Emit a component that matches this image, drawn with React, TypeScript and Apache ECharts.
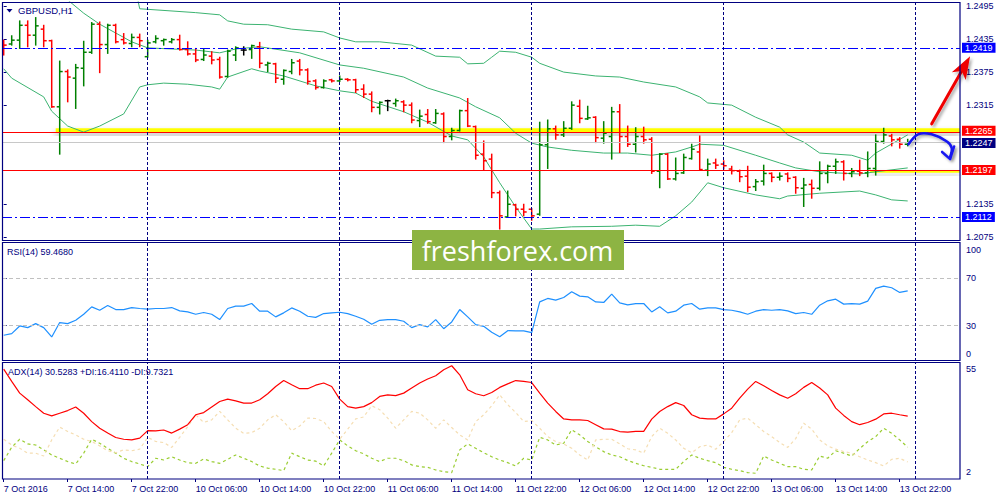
import React, { useEffect, useRef } from "react";
import * as echarts from "echarts";

const NAVY = "#000080";
const FONT = "'Liberation Sans', Arial, sans-serif";
const BULL = "#008000";
const BEAR = "#FF0000";
const DOJI = "#000000";
const BB_COLOR = "#3CB371";

const chartTitle = "GBPUSD,H1";
const rsiTitle = "RSI(14) 59.4680";
const adxTitle = "ADX(14) 30.5283 +DI:16.4110 -DI:9.7321";
const watermark = "freshforex.com";

// x axis (bar index) labels every 8 bars
const tickIndex = [0, 8, 16, 24, 32, 40, 48, 56, 64, 72, 80, 88, 96, 104, 112];
const tickLabels = [
  "7 Oct 2016", "7 Oct 14:00", "7 Oct 22:00", "10 Oct 06:00", "10 Oct 14:00",
  "10 Oct 22:00", "11 Oct 06:00", "11 Oct 14:00", "11 Oct 22:00", "12 Oct 06:00",
  "12 Oct 14:00", "12 Oct 22:00", "13 Oct 06:00", "13 Oct 14:00", "13 Oct 22:00",
];
const daySeparators = [18, 42, 66, 90, 114];
const X_MIN = -0.2125;
const X_MAX = 119.5375;

// visible price scale labels (1.2255 / 1.2195 are hidden behind the level boxes)
const priceTicks = [1.2075, 1.2135, 1.2315, 1.2375, 1.2435, 1.2495];
const PRICE_MIN = 1.20701;
const PRICE_MAX = 1.25023;
const rsiTicks = [0, 30, 70, 100];
const rsiLevels = [30, 70];
const adxTicks = [2, 55];

const blueLevels = [1.2419, 1.2112];
const redLevels = [1.2265, 1.2197];
const bidPrice = 1.2247;
const zoneStart = [6.5, 108.3];
const zoneTop = [1.2273, 1.2196];
const zoneBottom = [1.2266, 1.2192];

const barOpen = [
  1.2430, 1.2426, 1.2433, 1.2460, 1.2442, 1.2453, 1.2432, 1.2312, 1.2376, 1.2364,
  1.2382, 1.2411, 1.2462, 1.2425, 1.2460, 1.2434, 1.2427, 1.2438, 1.2403, 1.2430,
  1.2432, 1.2430, 1.2434, 1.2416, 1.2408, 1.2398, 1.2404, 1.2398, 1.2367, 1.2406,
  1.2415, 1.2416, 1.2421, 1.2388, 1.2390, 1.2362, 1.2376, 1.2395, 1.2379, 1.2359,
  1.2347, 1.2361, 1.2359, 1.2362, 1.2361, 1.2344, 1.2335, 1.2311, 1.2323, 1.2318,
  1.2321, 1.2315, 1.2287, 1.2298, 1.2283, 1.2299, 1.2258, 1.2269, 1.2305, 1.2276,
  1.2226, 1.2217, 1.2156, 1.2112, 1.2134, 1.2126, 1.2126, 1.2117, 1.2243, 1.2272,
  1.2261, 1.2273, 1.2313, 1.2290, 1.2293, 1.2255, 1.2258, 1.2303, 1.2258, 1.2244,
  1.2258, 1.2253, 1.2195, 1.2226, 1.2181, 1.2192, 1.2218, 1.2230, 1.2197, 1.2210,
  1.2208, 1.2199, 1.2195, 1.2186, 1.2167, 1.2177, 1.2191, 1.2184, 1.2190, 1.2184,
  1.2164, 1.2171, 1.2164, 1.2191, 1.2204, 1.2212, 1.2191, 1.2195, 1.2192, 1.2200,
  1.2249, 1.2259, 1.2253, 1.2244,
];
const barHigh = [
  1.2433, 1.2441, 1.2468, 1.2468, 1.2474, 1.2460, 1.2433, 1.2395, 1.2379, 1.2389,
  1.2431, 1.2465, 1.2466, 1.2462, 1.2462, 1.2445, 1.2444, 1.2444, 1.2433, 1.2441,
  1.2435, 1.2436, 1.2442, 1.2430, 1.2418, 1.2417, 1.2412, 1.2402, 1.2415, 1.2421,
  1.2421, 1.2424, 1.2429, 1.2393, 1.2391, 1.2379, 1.2398, 1.2398, 1.2381, 1.2361,
  1.2361, 1.2362, 1.2368, 1.2363, 1.2362, 1.2352, 1.2339, 1.2321, 1.2324, 1.2326,
  1.2323, 1.2319, 1.2306, 1.2307, 1.2307, 1.2301, 1.2273, 1.2306, 1.2327, 1.2277,
  1.2250, 1.2226, 1.2159, 1.2159, 1.2135, 1.2135, 1.2127, 1.2284, 1.2288, 1.2277,
  1.2285, 1.2321, 1.2324, 1.2313, 1.2294, 1.2285, 1.2311, 1.2316, 1.2277, 1.2274,
  1.2275, 1.2256, 1.2227, 1.2227, 1.2219, 1.2226, 1.2244, 1.2259, 1.2217, 1.2217,
  1.2214, 1.2204, 1.2197, 1.2204, 1.2180, 1.2206, 1.2192, 1.2192, 1.2192, 1.2185,
  1.2182, 1.2179, 1.2212, 1.2206, 1.2217, 1.2214, 1.2200, 1.2215, 1.2230, 1.2261,
  1.2273, 1.2262, 1.2256, 1.2253,
];
const barLow = [
  1.2406, 1.2424, 1.2418, 1.2421, 1.2424, 1.2421, 1.2311, 1.2226, 1.2321, 1.2309,
  1.2350, 1.2409, 1.2374, 1.2409, 1.2428, 1.2426, 1.2421, 1.2421, 1.2402, 1.2428,
  1.2424, 1.2428, 1.2415, 1.2406, 1.2394, 1.2396, 1.2390, 1.2364, 1.2366, 1.2396,
  1.2406, 1.2400, 1.2383, 1.2376, 1.2356, 1.2353, 1.2372, 1.2370, 1.2353, 1.2344,
  1.2346, 1.2357, 1.2358, 1.2359, 1.2338, 1.2329, 1.2303, 1.2299, 1.2305, 1.2313,
  1.2303, 1.2283, 1.2276, 1.2282, 1.2282, 1.2247, 1.2252, 1.2268, 1.2276, 1.2217,
  1.2197, 1.2147, 1.2090, 1.2111, 1.2114, 1.2114, 1.2106, 1.2115, 1.2200, 1.2253,
  1.2258, 1.2271, 1.2283, 1.2289, 1.2247, 1.2246, 1.2217, 1.2229, 1.2240, 1.2230,
  1.2246, 1.2191, 1.2165, 1.2180, 1.2179, 1.2191, 1.2217, 1.2197, 1.2187, 1.2200,
  1.2199, 1.2190, 1.2176, 1.2158, 1.2160, 1.2170, 1.2176, 1.2179, 1.2176, 1.2155,
  1.2131, 1.2146, 1.2161, 1.2174, 1.2191, 1.2179, 1.2185, 1.2187, 1.2185, 1.2188,
  1.2246, 1.2241, 1.2237, 1.2241,
];
const barClose = [
  1.2424, 1.2433, 1.2460, 1.2442, 1.2459, 1.2432, 1.2312, 1.2376, 1.2366, 1.2383,
  1.2411, 1.2462, 1.2425, 1.2460, 1.2430, 1.2428, 1.2438, 1.2432, 1.2428, 1.2436,
  1.2434, 1.2434, 1.2416, 1.2408, 1.2397, 1.2406, 1.2397, 1.2366, 1.2413, 1.2419,
  1.2415, 1.2423, 1.2391, 1.2391, 1.2364, 1.2378, 1.2392, 1.2379, 1.2358, 1.2347,
  1.2359, 1.2359, 1.2362, 1.2361, 1.2343, 1.2335, 1.2311, 1.2320, 1.2323, 1.2323,
  1.2315, 1.2288, 1.2295, 1.2285, 1.2300, 1.2258, 1.2269, 1.2305, 1.2277, 1.2224,
  1.2214, 1.2156, 1.2114, 1.2135, 1.2126, 1.2121, 1.2114, 1.2243, 1.2272, 1.2261,
  1.2273, 1.2315, 1.2291, 1.2292, 1.2256, 1.2264, 1.2303, 1.2258, 1.2244, 1.2258,
  1.2252, 1.2195, 1.2226, 1.2181, 1.2191, 1.2220, 1.2235, 1.2198, 1.2208, 1.2206,
  1.2205, 1.2196, 1.2185, 1.2166, 1.2176, 1.2191, 1.2184, 1.2186, 1.2182, 1.2165,
  1.2170, 1.2164, 1.2191, 1.2204, 1.2212, 1.2191, 1.2194, 1.2192, 1.2200, 1.2249,
  1.2261, 1.2252, 1.2244, 1.2247,
];

// Bollinger bands read at [barIndex, price]
const bbUpper = [
  [10, 1.2700], [14, 1.2600], [16, 1.2560], [17, 1.2490], [18, 1.2489], [24, 1.2483],
  [27, 1.2479], [28, 1.2468], [30, 1.2462], [33, 1.2461], [36, 1.2453], [40, 1.2448],
  [42, 1.2437], [44, 1.2430], [47, 1.2430], [51, 1.2424], [54, 1.2404], [57, 1.2402],
  [58, 1.2390], [60, 1.2391], [61, 1.2402], [62, 1.2413], [64, 1.2411], [66, 1.2402],
  [67, 1.2391], [70, 1.2375], [74, 1.2368], [77, 1.2366], [80, 1.2357], [84, 1.2348],
  [87, 1.2330], [88, 1.2319], [91, 1.2315], [94, 1.2293], [97, 1.2275], [98, 1.2261],
  [100, 1.2248], [102, 1.2228], [106, 1.2224], [108, 1.2215], [109, 1.2228], [113, 1.2261],
];
const bbMiddle = [
  [6, 1.2540], [8, 1.2506], [10, 1.2482], [12, 1.2462], [14, 1.2446], [16, 1.2430],
  [18, 1.2419], [24, 1.2415], [27, 1.2410], [29, 1.2417], [32, 1.2421], [37, 1.2410],
  [42, 1.2388], [45, 1.2382], [50, 1.2366], [53, 1.2346], [57, 1.2328], [59, 1.2312],
  [62, 1.2292], [64, 1.2264], [66, 1.2246], [68, 1.2239], [71, 1.2233], [75, 1.2228],
  [78, 1.2228], [81, 1.2224], [84, 1.2230], [86, 1.2239], [87, 1.2244], [90, 1.2242],
  [94, 1.2224], [97, 1.2210], [99, 1.2201], [102, 1.2194], [104, 1.2192], [107, 1.2190],
  [109, 1.2194], [113, 1.2201],
];
const bbLower = [
  [0, 1.2381], [1, 1.2364], [5, 1.2330], [6, 1.2304], [8, 1.2277], [10, 1.2266],
  [12, 1.2277], [15, 1.2299], [17, 1.2348], [18, 1.2352], [20, 1.2355], [23, 1.2353],
  [26, 1.2348], [27, 1.2344], [28, 1.2366], [31, 1.2381], [32, 1.2377], [35, 1.2368],
  [39, 1.2350], [42, 1.2341], [44, 1.2337], [46, 1.2322], [50, 1.2303], [53, 1.2284],
  [56, 1.2259], [58, 1.2252], [60, 1.2221], [62, 1.2174], [64, 1.2130], [66, 1.2090],
  [67, 1.2090], [71, 1.2094], [76, 1.2095], [79, 1.2097], [82, 1.2095], [84, 1.2114],
  [86, 1.2139], [88, 1.2174], [90, 1.2165], [94, 1.2152], [97, 1.2145], [98, 1.2150],
  [102, 1.2155], [107, 1.2159], [109, 1.2152], [111, 1.2143], [113, 1.2141],
];

const rsiValues = [
  21.8, 23.2, 29.7, 28.3, 31.7, 28.3, 20.4, 32.6, 31.7, 34.5,
  39.6, 45.9, 43.0, 47.0, 43.6, 43.6, 45.3, 44.5, 43.9, 44.5,
  44.5, 45.3, 42.5, 41.6, 39.6, 41.1, 39.6, 35.1, 44.5, 46.5,
  46.5, 48.7, 42.2, 42.2, 37.4, 40.8, 45.0, 42.2, 37.9, 37.0,
  40.2, 40.8, 41.3, 40.2, 37.9, 35.4, 31.1, 34.5, 35.1, 35.1,
  33.7, 28.3, 30.8, 28.9, 35.1, 27.4, 33.1, 43.6, 37.4, 30.8,
  29.4, 24.3, 20.6, 25.7, 25.5, 25.5, 24.0, 50.1, 53.0, 51.6,
  53.8, 58.7, 55.0, 54.4, 50.1, 49.6, 56.7, 49.3, 47.6, 48.7,
  48.7, 41.6, 45.9, 40.8, 42.2, 47.3, 48.7, 43.9, 45.0, 45.0,
  43.6, 43.0, 41.6, 39.6, 42.2, 43.6, 43.0, 43.6, 42.5, 40.2,
  41.1, 39.6, 47.3, 51.0, 52.4, 48.2, 48.7, 48.2, 50.7, 61.5,
  63.5, 62.1, 58.1, 59.5,
];
const adxValues = [
  51.8, 46.2, 40.9, 37.9, 34.8, 31.8, 30.6, 31.8, 33.0, 34.6,
  31.8, 28.0, 25.0, 22.8, 20.8, 20.0, 19.7, 20.5, 23.9, 23.8,
  24.2, 22.8, 24.6, 26.6, 31.1, 32.1, 34.6, 37.1, 38.2, 37.4,
  36.4, 36.4, 37.9, 40.6, 43.9, 46.6, 44.7, 42.9, 42.9, 44.5,
  45.5, 43.9, 38.2, 34.8, 34.1, 34.8, 36.6, 39.4, 40.1, 39.8,
  40.9, 43.2, 45.5, 47.3, 48.8, 51.5, 53.3, 49.2, 42.4, 40.6,
  39.7, 41.2, 43.5, 45.1, 46.6, 46.2, 45.7, 40.9, 36.4, 32.6,
  29.2, 28.8, 28.8, 28.5, 26.6, 24.7, 24.6, 23.5, 23.2, 23.6,
  23.6, 29.1, 32.6, 34.8, 36.6, 35.3, 31.1, 29.6, 29.2, 29.2,
  31.5, 34.1, 38.6, 42.7, 46.2, 44.2, 42.1, 40.1, 38.6, 40.6,
  43.5, 45.7, 43.2, 40.1, 34.1, 30.8, 28.0, 26.6, 27.6, 29.1,
  31.5, 31.8, 31.1, 30.5,
];
const plusDiValues = [
  10.3, 16.4, 20.0, 17.9, 17.4, 15.2, 12.9, 11.4, 9.9, 8.8,
  13.7, 20.0, 18.2, 15.9, 13.7, 11.4, 9.9, 8.8, 7.6, 11.4,
  10.6, 12.1, 10.6, 9.4, 9.1, 11.1, 9.9, 9.1, 10.9, 12.9,
  11.4, 9.9, 7.9, 6.9, 6.4, 5.8, 13.7, 12.1, 10.6, 10.1,
  7.9, 13.7, 19.7, 17.0, 14.8, 13.4, 11.4, 9.9, 11.4, 11.4,
  10.3, 8.4, 7.6, 7.3, 6.1, 5.3, 4.9, 15.2, 17.9, 15.9,
  13.9, 12.1, 10.6, 9.4, 7.9, 11.4, 10.6, 20.9, 19.7, 17.4,
  18.2, 24.3, 22.0, 19.0, 16.6, 14.4, 12.9, 12.1, 10.4, 9.1,
  8.0, 7.3, 6.4, 6.4, 6.4, 9.9, 12.9, 11.4, 10.3, 9.4,
  7.3, 6.4, 5.8, 4.9, 4.6, 12.4, 10.6, 9.1, 7.6, 7.6,
  6.4, 6.1, 12.4, 11.4, 14.8, 13.7, 12.4, 15.8, 18.9, 21.2,
  25.0, 22.7, 19.7, 16.4,
];
const minusDiValues = [
  20.0, 17.4, 15.9, 13.7, 13.7, 12.4, 19.7, 25.5, 23.5, 22.0,
  20.0, 19.0, 17.0, 14.8, 13.9, 15.2, 14.8, 15.5, 20.9, 19.0,
  18.5, 16.3, 20.9, 25.7, 31.1, 27.6, 28.8, 32.6, 28.8, 25.0,
  22.7, 23.0, 25.0, 28.8, 31.1, 28.0, 23.9, 26.0, 29.6, 29.4,
  28.0, 23.5, 20.0, 24.6, 29.2, 30.1, 35.2, 33.4, 29.6, 25.0,
  28.8, 32.6, 31.8, 28.8, 25.0, 28.8, 25.3, 22.0, 19.7, 28.0,
  31.1, 35.2, 40.1, 35.7, 32.1, 28.0, 28.5, 25.0, 21.2, 19.0,
  17.9, 15.9, 12.9, 10.6, 19.7, 20.0, 20.0, 17.9, 15.7, 15.2,
  13.7, 21.2, 25.0, 22.7, 19.7, 15.9, 13.9, 16.6, 17.4, 15.5,
  19.0, 23.0, 28.8, 29.6, 26.6, 23.5, 21.2, 18.5, 16.3, 20.3,
  27.3, 24.6, 19.7, 17.0, 15.5, 14.4, 13.7, 12.1, 10.6, 9.4,
  7.9, 10.9, 11.4, 9.7,
];

// drawn annotations, anchored at [barIndex, price]
const redArrowFrom = [116, 1.2281];
const redArrowTo = [120.8, 1.2404];
const blueArrowPath = [
  [113.1, 1.2244], [114.3, 1.2262], [116.0, 1.2262], [117.9, 1.2249], [118.5, 1.2237], [118.3, 1.2221],
];
const blueArrowHead = [[117.3, 1.2230], [118.3, 1.2217], [118.8, 1.2240]];

const labelFont = { color: NAVY, fontSize: 9, fontFamily: FONT };

function renderBar(params: any, api: any) {
  const i = api.value(0);
  const o = api.value(1);
  const h = api.value(2);
  const l = api.value(3);
  const c = api.value(4);
  const pH = api.coord([i, h]);
  const pL = api.coord([i, l]);
  const pO = api.coord([i, o]);
  const pC = api.coord([i, c]);
  const x = pH[0];
  const color = c > o ? BULL : c < o ? BEAR : DOJI;
  const st = { stroke: color, lineWidth: 1.5 };
  return {
    type: "group",
    children: [
      { type: "line", shape: { x1: x, y1: pH[1] - 0.5, x2: x, y2: pL[1] + 0.5 }, style: st },
      { type: "line", shape: { x1: x - 3, y1: pO[1], x2: x, y2: pO[1] }, style: st },
      { type: "line", shape: { x1: x, y1: pC[1], x2: x + 3, y2: pC[1] }, style: st },
    ],
  };
}

function renderArrows(params: any, api: any) {
  const a = api.coord(redArrowFrom);
  const b = api.coord(redArrowTo);
  const dx = b[0] - a[0];
  const dy = b[1] - a[1];
  const len = Math.hypot(dx, dy);
  const ux = dx / len;
  const uy = dy / len;
  const headLen = 23;
  const headW = 8;
  const base = [b[0] - ux * headLen, b[1] - uy * headLen];
  const notch = [b[0] - ux * (headLen - 6), b[1] - uy * (headLen - 6)];
  const left = [base[0] - uy * headW, base[1] + ux * headW];
  const right = [base[0] + uy * headW, base[1] - ux * headW];
  const shadow = { shadowBlur: 3, shadowColor: "rgba(0,0,0,0.35)", shadowOffsetX: 2, shadowOffsetY: 2 };
  const bluePts = blueArrowPath.map((p) => api.coord(p));
  const headPts = blueArrowHead.map((p) => api.coord(p));
  return {
    type: "group",
    children: [
      {
        type: "line",
        shape: { x1: a[0], y1: a[1], x2: notch[0], y2: notch[1] },
        style: { stroke: "#F00000", lineWidth: 3, lineCap: "round", ...shadow },
      },
      {
        type: "polygon",
        shape: { points: [b, left, notch, right] },
        style: { fill: "#F00000", ...shadow },
      },
      {
        type: "polyline",
        shape: { points: bluePts, smooth: 0.35 },
        style: { stroke: "#1515F0", lineWidth: 2.5, fill: "none", lineCap: "round", ...shadow },
      },
      {
        type: "polyline",
        shape: { points: headPts },
        style: { stroke: "#1515F0", lineWidth: 2.5, fill: "none", lineCap: "round", lineJoin: "round", ...shadow },
      },
    ],
  };
}

const separatorLines = daySeparators.map((x) => ({
  xAxis: x,
  lineStyle: { color: NAVY, type: [3, 2], width: 1 },
  label: { show: false },
}));

const boxLabel = (price: number, bg: string, shiftY: number) => ({
  show: true,
  position: "end",
  distance: 2,
  offset: [0, shiftY],
  formatter: price.toFixed(4),
  color: "#FFFFFF",
  backgroundColor: bg,
  padding: [1, 3, 0, 3],
  fontSize: 9,
  lineHeight: 9,
  fontFamily: FONT,
});

const mainLevelLines = [
  ...blueLevels.map((p) => ({
    yAxis: p,
    lineStyle: { color: "#0000FF", type: [10, 3, 2, 3], width: 1.2 },
    label: boxLabel(p, "#0000FF", 0),
  })),
  ...redLevels.map((p, k) => ({
    yAxis: p,
    lineStyle: { color: "#FF0000", type: "solid", width: 1.2 },
    label: boxLabel(p, "#FF0000", k === 0 ? -2 : 0),
  })),
  {
    yAxis: bidPrice,
    lineStyle: { color: "#C8C8C8", type: "solid", width: 1 },
    label: boxLabel(bidPrice, NAVY, 0.5),
  },
];

const zones = zoneStart.map((s, k) => [
  {
    xAxis: s,
    yAxis: zoneTop[k],
    itemStyle: {
      color: "#FFFF00",
      shadowBlur: 6,
      shadowColor: "rgba(0,0,0,0.35)",
      shadowOffsetY: 4,
    },
  },
  { xAxis: X_MAX, yAxis: zoneBottom[k] },
]);

const xAxisFor = (gridIndex: number, showLabels: boolean) => ({
  type: "value",
  gridIndex,
  min: X_MIN,
  max: X_MAX,
  axisLine: { show: false },
  splitLine: { show: false },
  axisTick: showLabels
    ? { show: true, length: 3, customValues: tickIndex, lineStyle: { color: NAVY } }
    : { show: false },
  axisLabel: showLabels
    ? {
        show: true,
        customValues: tickIndex,
        formatter: (v: number) => {
          const k = tickIndex.indexOf(Math.round(v));
          return k >= 0 ? tickLabels[k] : "";
        },
        align: "left",
        margin: 5,
        ...labelFont,
      }
    : { show: false },
});

const insetRich = {
  t: { padding: [13, 0, 0, 0], ...labelFont },
  b: { padding: [0, 0, 14, 0], ...labelFont },
};

const option: any = {
  animation: false,
  backgroundColor: "#FFFFFF",
  textStyle: { fontFamily: FONT },
  grid: [
    { left: 2, top: 2, width: 958, height: 238, outerBoundsMode: "none" },
    { left: 2, top: 243, width: 958, height: 118, outerBoundsMode: "none" },
    { left: 2, top: 362, width: 958, height: 117, outerBoundsMode: "none" },
  ],
  xAxis: [xAxisFor(0, false), xAxisFor(1, false), xAxisFor(2, true)],
  yAxis: [
    {
      type: "value",
      gridIndex: 0,
      position: "right",
      min: PRICE_MIN,
      max: PRICE_MAX,
      axisLine: { show: false },
      splitLine: { show: false },
      axisTick: { show: true, length: 3, customValues: priceTicks, lineStyle: { color: NAVY } },
      axisLabel: {
        customValues: priceTicks,
        formatter: (v: number) => v.toFixed(4),
        margin: 6,
        ...labelFont,
      },
    },
    {
      type: "value",
      gridIndex: 1,
      position: "right",
      min: 0,
      max: 100,
      axisLine: { show: false },
      splitLine: { show: false },
      axisTick: { show: true, length: 3, customValues: rsiLevels, lineStyle: { color: NAVY } },
      axisLabel: {
        customValues: rsiTicks,
        formatter: (v: number) => (v === 100 ? `{t|${v}}` : v === 0 ? `{b|${v}}` : `${v}`),
        rich: insetRich,
        margin: 6,
        ...labelFont,
      },
    },
    {
      type: "value",
      gridIndex: 2,
      position: "right",
      min: adxTicks[0],
      max: adxTicks[1],
      axisLine: { show: false },
      splitLine: { show: false },
      axisTick: { show: false },
      axisLabel: {
        customValues: adxTicks,
        formatter: (v: number) => (v === adxTicks[1] ? `{t|${v}}` : `{b|${v}}`),
        rich: insetRich,
        margin: 6,
        ...labelFont,
      },
    },
  ],
  series: [
    {
      type: "line",
      name: "BB upper",
      xAxisIndex: 0,
      yAxisIndex: 0,
      data: bbUpper,
      showSymbol: false,
      symbol: "none",
      clip: true,
      z: 2,
      lineStyle: { color: BB_COLOR, width: 1 },
      markArea: { silent: true, precision: 6, data: zones },
      markLine: {
        silent: true,
        precision: 6,
        symbol: ["none", "none"],
        animation: false,
        data: [...mainLevelLines, ...separatorLines],
      },
    },
    {
      type: "line",
      name: "BB middle",
      xAxisIndex: 0,
      yAxisIndex: 0,
      data: bbMiddle,
      showSymbol: false,
      symbol: "none",
      clip: true,
      z: 2,
      lineStyle: { color: BB_COLOR, width: 1 },
    },
    {
      type: "line",
      name: "BB lower",
      xAxisIndex: 0,
      yAxisIndex: 0,
      data: bbLower,
      showSymbol: false,
      symbol: "none",
      clip: true,
      z: 2,
      lineStyle: { color: BB_COLOR, width: 1 },
    },
    {
      type: "custom",
      name: "GBPUSD",
      xAxisIndex: 0,
      yAxisIndex: 0,
      renderItem: renderBar,
      clip: true,
      z: 3,
      encode: { x: 0, y: [1, 2, 3, 4] },
      data: barOpen.map((o, i) => [i, o, barHigh[i], barLow[i], barClose[i]]),
    },
    {
      type: "custom",
      name: "arrows",
      xAxisIndex: 0,
      yAxisIndex: 0,
      renderItem: renderArrows,
      clip: false,
      silent: true,
      z: 10,
      encode: { x: 0, y: 1 },
      data: [redArrowFrom],
    },
    {
      type: "line",
      name: "RSI",
      xAxisIndex: 1,
      yAxisIndex: 1,
      data: rsiValues.map((v, i) => [i, v]),
      showSymbol: false,
      symbol: "none",
      lineStyle: { color: "#1E90FF", width: 1.2 },
      markLine: {
        silent: true,
        precision: 6,
        symbol: ["none", "none"],
        animation: false,
        data: [
          ...rsiLevels.map((v) => ({
            yAxis: v,
            lineStyle: { color: "#C0C0C0", type: [4, 3], width: 1 },
            label: { show: false },
          })),
          ...separatorLines,
        ],
      },
    },
    {
      type: "line",
      name: "ADX",
      xAxisIndex: 2,
      yAxisIndex: 2,
      data: adxValues.map((v, i) => [i, v]),
      showSymbol: false,
      symbol: "none",
      z: 4,
      lineStyle: { color: "#FF0000", width: 1.2 },
      markLine: {
        silent: true,
        precision: 6,
        symbol: ["none", "none"],
        animation: false,
        data: separatorLines,
      },
    },
    {
      type: "line",
      name: "+DI",
      xAxisIndex: 2,
      yAxisIndex: 2,
      data: plusDiValues.map((v, i) => [i, v]),
      showSymbol: false,
      symbol: "none",
      z: 3,
      lineStyle: { color: "#9ACD32", width: 1.2, type: [3, 3] },
    },
    {
      type: "line",
      name: "-DI",
      xAxisIndex: 2,
      yAxisIndex: 2,
      data: minusDiValues.map((v, i) => [i, v]),
      showSymbol: false,
      symbol: "none",
      z: 3,
      lineStyle: { color: "#F5DEB3", width: 1.2, type: [3, 3] },
    },
  ],
  graphic: [
    {
      type: "rect",
      z: 90,
      silent: true,
      shape: { x: 2.5, y: 2.5, width: 957.5, height: 238 },
      style: { fill: "none", stroke: NAVY, lineWidth: 1.2 },
    },
    {
      type: "rect",
      z: 90,
      silent: true,
      shape: { x: 2.5, y: 242.5, width: 957.5, height: 118 },
      style: { fill: "none", stroke: NAVY, lineWidth: 1.2 },
    },
    {
      type: "rect",
      z: 90,
      silent: true,
      shape: { x: 2.5, y: 362.5, width: 957.5, height: 116.5 },
      style: { fill: "none", stroke: NAVY, lineWidth: 1.2 },
    },
    {
      type: "polygon",
      z: 95,
      silent: true,
      shape: { points: [[6.5, 9], [12.5, 9], [9.5, 12.5]] },
      style: { fill: NAVY },
    },
    {
      type: "text",
      z: 95,
      silent: true,
      style: { text: chartTitle, x: 18, y: 10.5, fill: NAVY, fontSize: 9.5, fontFamily: FONT, verticalAlign: "middle" },
    },
    {
      type: "text",
      z: 95,
      silent: true,
      style: { text: rsiTitle, x: 7, y: 251.5, fill: NAVY, fontSize: 9, fontFamily: FONT, verticalAlign: "middle" },
    },
    {
      type: "text",
      z: 95,
      silent: true,
      style: { text: adxTitle, x: 8, y: 371.5, fill: NAVY, fontSize: 9, fontFamily: FONT, verticalAlign: "middle" },
    },
    {
      type: "rect",
      z: 100,
      silent: true,
      shape: { x: 412, y: 230, width: 212, height: 40 },
      style: { fill: "#8DB443" },
    },
    {
      type: "text",
      z: 101,
      silent: true,
      style: {
        text: watermark,
        x: 517.5,
        y: 250,
        fill: "#FFFFFF",
        fontSize: 27,
        fontFamily: "'Open Sans', sans-serif",
        align: "center",
        verticalAlign: "middle",
      },
    },
  ],
};

export default function App() {
  const ref = useRef<HTMLDivElement>(null);
  useEffect(() => {
    if (!ref.current) return;
    const chart = echarts.init(ref.current, null, { renderer: "svg" });
    chart.setOption(option);
    return () => chart.dispose();
  }, []);
  return (
    <div
      ref={ref}
      style={{ position: "fixed", left: 0, top: 0, width: 1000, height: 500, background: "#FFFFFF" }}
    />
  );
}
